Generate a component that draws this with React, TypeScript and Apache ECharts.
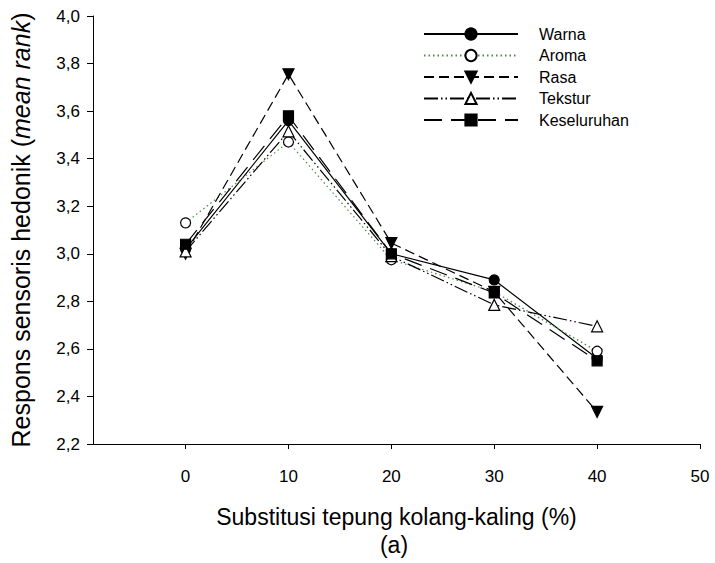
import React, { useEffect, useRef } from "react";
import * as echarts from "echarts";

const xValues = [0, 10, 20, 30, 40];
const xTicks = [0, 10, 20, 30, 40, 50];
const warna = [3.02, 3.56, 3.0, 2.89, 2.56];
const aroma = [3.13, 3.47, 2.975, 2.84, 2.59];
const rasa = [3.0, 3.755, 3.045, 2.84, 2.335];
const tekstur = [3.01, 3.515, 2.99, 2.785, 2.695];
const keseluruhan = [3.04, 3.58, 3.0, 2.835, 2.55];

const FONT = "Liberation Sans, Arial, sans-serif";

function pts(vals: number[]) {
  return vals.map((v, i) => [xValues[i], v]);
}

export default function App() {
  const ref = useRef<HTMLDivElement>(null);
  useEffect(() => {
    if (!ref.current) return;
    const chart = echarts.init(ref.current, null, { renderer: "svg" });
    const mk = (name: string, data: number[], symbol: string, filled: boolean, lineType: any, color = "#000", rotate = 0) => ({
      name,
      type: "line",
      data: pts(data),
      symbol,
      symbolSize: symbol === "rect" ? 10 : symbol === "triangle" ? 11 : 10,
      symbolRotate: rotate,
      lineStyle: { color, width: 1.2, type: lineType },
      itemStyle: { color: filled ? "#000" : "#fff", borderColor: "#000", borderWidth: 1.2 },
      emphasis: { disabled: true },
    });
    chart.setOption({
      animation: false,
      textStyle: { fontFamily: FONT },
      grid: { left: 91, right: 15, top: 16, bottom: 119 },
      legend: {
        orient: "vertical",
        left: 423,
        top: 26,
        itemWidth: 94,
        itemHeight: 14,
        itemGap: 5.5,
        padding: 0,
        textStyle: { fontSize: 16, lineHeight: 14, color: "#000", fontFamily: FONT, padding: [0, 0, 0, 16] },
        data: ["Warna", "Aroma", "Rasa", "Tekstur", "Keseluruhan"],
      },
      xAxis: {
        type: "value",
        min: -9,
        max: 50,
        splitLine: { show: false },
        axisLine: { onZero: false, lineStyle: { color: "#000", width: 1 } },
        axisTick: { show: true, length: 5, inside: false, customValues: xTicks, lineStyle: { color: "#000" } },
        axisLabel: { customValues: xTicks, color: "#000", fontSize: 17, margin: 24, fontFamily: FONT },
        name: "Substitusi tepung kolang-kaling (%)",
        nameLocation: "middle",
        nameGap: 61,
        nameTextStyle: { fontSize: 23, color: "#000", fontFamily: FONT },
      },
      yAxis: {
        type: "value",
        min: 2.2,
        max: 4.0,
        interval: 0.2,
        splitLine: { show: false },
        axisLine: { show: true, onZero: false, lineStyle: { color: "#000", width: 1 } },
        axisTick: { show: true, length: 6, lineStyle: { color: "#000" } },
        axisLabel: {
          color: "#000",
          fontSize: 17,
          margin: 13,
          fontFamily: FONT,
          formatter: (v: number) => v.toFixed(1).replace(".", ","),
        },
        name: "{n|Respons sensoris hedonik (}{i|mean rank}{n|)}",
        nameLocation: "middle",
        nameGap: 60,
        nameTextStyle: {
          fontSize: 25,
          color: "#000",
          fontFamily: FONT,
          rich: {
            n: { fontSize: 25, color: "#000", fontFamily: FONT },
            i: { fontSize: 25, color: "#000", fontFamily: FONT, fontStyle: "italic" },
          },
        },
      },
      graphic: [
        {
          type: "text",
          x: 394,
          y: 545,
          style: { text: "(a)", fontSize: 23, fill: "#000", fontFamily: FONT, align: "center", verticalAlign: "middle" },
        },
      ],
      series: [
        mk("Warna", warna, "circle", true, "solid"),
        mk("Aroma", aroma, "circle", false, [1.5, 3], "#4a8a4a"),
        mk("Rasa", rasa, "triangle", true, [10, 5], "#000", 180),
        mk("Tekstur", tekstur, "triangle", false, [14, 3, 1.5, 3, 1.5, 3]),
        mk("Keseluruhan", keseluruhan, "rect", true, [18, 9]),
      ],
    });
    return () => chart.dispose();
  }, []);
  return <div ref={ref} style={{ width: 715, height: 563, position: "absolute", left: 0, top: 0 }} />;
}
